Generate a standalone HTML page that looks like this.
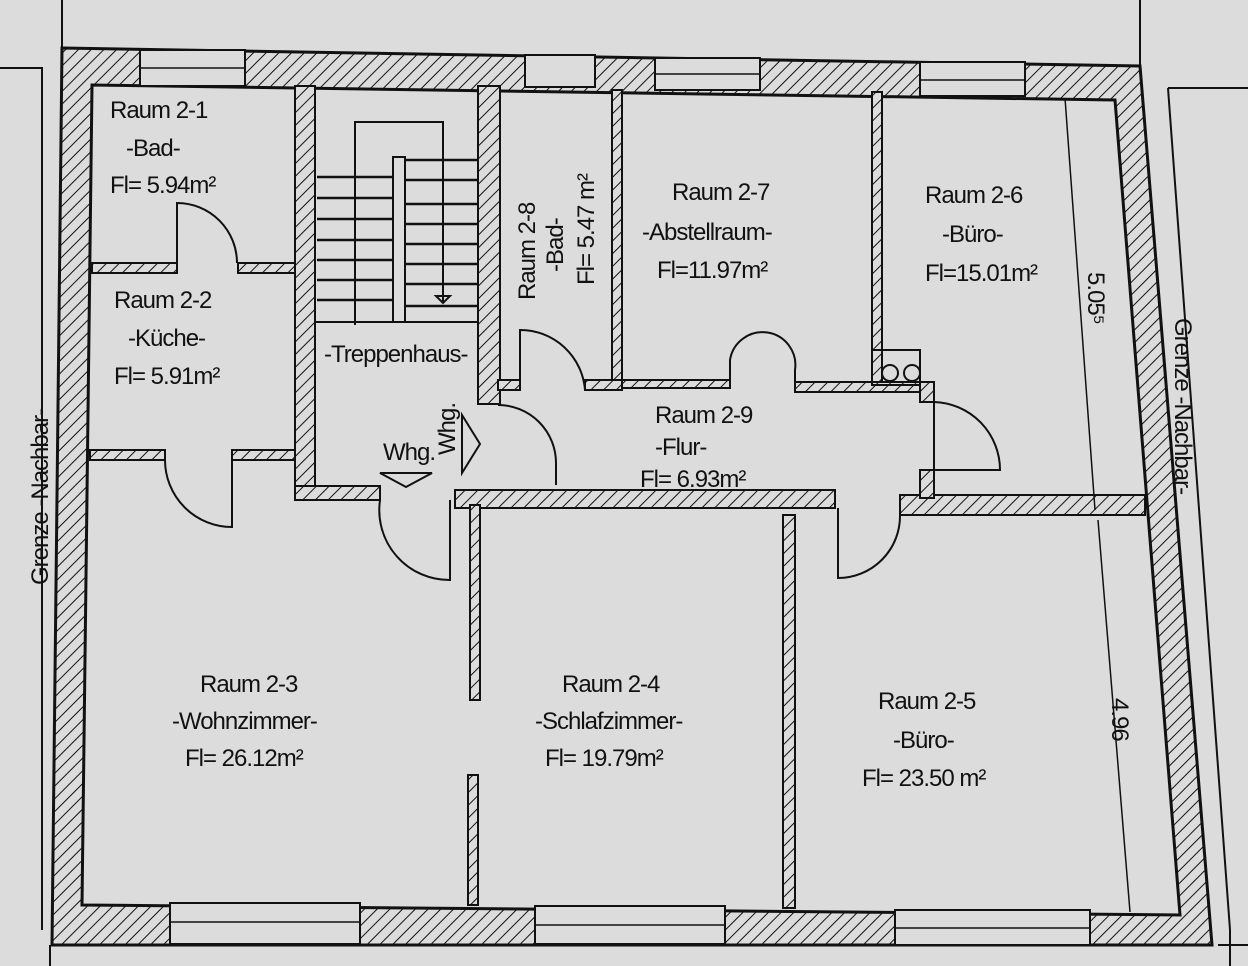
<!DOCTYPE html>
<html><head><meta charset="utf-8"><style>
html,body{margin:0;padding:0;background:#dcdcdc}
svg{display:block}
text{font-family:"Liberation Sans Narrow","Liberation Sans",sans-serif;fill:#111;font-size:24px;letter-spacing:-1px}
</style></head><body>
<svg width="1248" height="966" viewBox="0 0 1248 966" xmlns="http://www.w3.org/2000/svg">
<defs>
<pattern id="h" width="9" height="9" patternUnits="userSpaceOnUse" patternTransform="rotate(45)">
<rect width="9" height="9" fill="#dcdcdc"/><line x1="0" y1="0" x2="0" y2="9" stroke="#111" stroke-width="2"/>
</pattern>
</defs>
<rect width="1248" height="966" fill="#dcdcdc"/>
<g stroke="#111" stroke-width="2" fill="none">
<path d="M0 68 H42 V930"/><path d="M1168 88 H1248"/><path d="M1168 88 L1230 930"/>
<line x1="62" y1="0" x2="62" y2="48"/><line x1="1140" y1="0" x2="1140" y2="65"/>
<line x1="50" y1="945" x2="50" y2="966"/><line x1="1218" y1="945" x2="1248" y2="945"/>
<line x1="1230" y1="930" x2="1230" y2="966"/>
</g>
<path d="M62 48 L1140 66 L1212 945 L52 945 Z M92 85 L82 905 L1180 915 L1115 100 Z" fill="url(#h)" fill-rule="evenodd" stroke="#111" stroke-width="3"/>
<g fill="#dcdcdc" stroke="#111" stroke-width="2">
<rect x="140" y="50" width="105" height="36"/><rect x="525" y="55" width="70" height="32"/>
<rect x="655" y="58" width="105" height="32"/><rect x="920" y="62" width="105" height="34"/>
<rect x="170" y="903" width="190" height="41"/><rect x="535" y="906" width="190" height="38"/><rect x="895" y="910" width="195" height="35"/>
</g>
<g stroke="#111" stroke-width="1.5">
<line x1="140" y1="68" x2="245" y2="68"/><line x1="655" y1="74" x2="760" y2="74"/><line x1="920" y1="80" x2="1025" y2="80"/>
<line x1="170" y1="922" x2="360" y2="922"/><line x1="535" y1="925" x2="725" y2="925"/><line x1="895" y1="928" x2="1090" y2="928"/>
</g>
<g fill="url(#h)" stroke="#111" stroke-width="2">
<rect x="295" y="86" width="20" height="414"/>
<rect x="478" y="86" width="22" height="318"/>
<rect x="92" y="263" width="85" height="10"/><rect x="238" y="263" width="57" height="10"/>
<rect x="90" y="450" width="75" height="10"/><rect x="232" y="450" width="63" height="10"/>
<rect x="295" y="486" width="85" height="14"/>
<rect x="455" y="490" width="380" height="18"/>
<rect x="900" y="495" width="245" height="20"/>
<rect x="612" y="90" width="10" height="292"/>
<rect x="872" y="92" width="10" height="290"/>
<rect x="498" y="380" width="22" height="10"/><rect x="585" y="380" width="37" height="10"/>
<rect x="622" y="380" width="108" height="8"/><rect x="795" y="382" width="125" height="10"/>
<rect x="920" y="382" width="14" height="20"/><rect x="920" y="470" width="14" height="28"/>
<rect x="470" y="505" width="10" height="195"/><rect x="468" y="775" width="10" height="130"/>
<rect x="783" y="515" width="12" height="393"/>
</g>
<g stroke="#111" stroke-width="2" fill="none">
<path d="M177 263 V203 A60 60 0 0 1 237 263"/>
<path d="M165 460 A67 67 0 0 0 232 527 V460"/>
<path d="M520 390 V330 A65 65 0 0 1 585 390"/>
<path d="M730 385 V360 A32 32 0 0 1 795 370 V385"/>
<path d="M934 402 V470"/><path d="M934 402 A68 68 0 0 1 1000 470 H934"/>
<path d="M498 405 A58 58 0 0 1 556 463 V485"/>
<path d="M380 500 A70 70 0 0 0 450 580 V500"/>
<path d="M838 508 V578 A62 62 0 0 0 900 515"/>
<circle cx="890" cy="373" r="8"/><circle cx="912" cy="373" r="8"/>
<rect x="872" y="350" width="48" height="35"/>
</g>
<g stroke="#111" stroke-width="2" fill="none">
<path d="M355 325 V122 H443 V302"/>
<rect x="393" y="157" width="12" height="165"/>
<g stroke-width="2.5">
<line x1="405" y1="160" x2="478" y2="160"/>
<line x1="317" y1="177" x2="393" y2="177"/><line x1="405" y1="180" x2="478" y2="180"/>
<line x1="317" y1="198" x2="393" y2="198"/><line x1="405" y1="204" x2="478" y2="204"/>
<line x1="317" y1="219" x2="393" y2="219"/><line x1="405" y1="224" x2="478" y2="224"/>
<line x1="317" y1="240" x2="393" y2="240"/><line x1="405" y1="244" x2="478" y2="244"/>
<line x1="317" y1="260" x2="393" y2="260"/><line x1="405" y1="264" x2="478" y2="264"/>
<line x1="317" y1="280" x2="393" y2="280"/><line x1="405" y1="284" x2="478" y2="284"/>
<line x1="317" y1="300" x2="393" y2="300"/><line x1="405" y1="306" x2="478" y2="306"/>
</g>
<line x1="315" y1="322" x2="478" y2="322"/>
<path d="M436 296 L450 296 L443 303 Z"/>
<path d="M380 473 H432 L406 487 Z"/><path d="M462 415 V473 L480 444 Z"/>
<line x1="1065" y1="98" x2="1095" y2="510" stroke-width="1.5"/>
<line x1="1098" y1="520" x2="1130" y2="912" stroke-width="1.5"/>
</g>
<text x="110" y="118">Raum 2-1</text><text x="126" y="156">-Bad-</text><text x="110" y="193">Fl= 5.94m²</text>
<text x="114" y="308">Raum 2-2</text><text x="128" y="346">-Küche-</text><text x="114" y="384">Fl= 5.91m²</text>
<text x="324" y="362">-Treppenhaus-</text>
<text x="383" y="460" font-size="21">Whg.</text>
<text x="455" y="455" font-size="21" transform="rotate(-90 455 455)">Whg.</text>
<text transform="translate(535 300) rotate(-90)">Raum 2-8</text>
<text transform="translate(563 272) rotate(-90)">-Bad-</text>
<text transform="translate(594 285) rotate(-90)">Fl= 5.47 m²</text>
<text x="672" y="200">Raum 2-7</text><text x="642" y="240">-Abstellraum-</text><text x="657" y="278">Fl=11.97m²</text>
<text x="925" y="203">Raum 2-6</text><text x="942" y="242">-Büro-</text><text x="925" y="281">Fl=15.01m²</text>
<text x="655" y="423">Raum 2-9</text><text x="655" y="455">-Flur-</text><text x="640" y="487">Fl= 6.93m²</text>
<text x="200" y="692">Raum 2-3</text><text x="172" y="729">-Wohnzimmer-</text><text x="185" y="766">Fl= 26.12m²</text>
<text x="562" y="692">Raum 2-4</text><text x="535" y="729">-Schlafzimmer-</text><text x="545" y="766">Fl= 19.79m²</text>
<text x="878" y="709">Raum 2-5</text><text x="893" y="748">-Büro-</text><text x="862" y="786">Fl= 23.50 m²</text>
<text transform="translate(1088 272) rotate(90)">5.05⁵</text>
<text transform="translate(1112 698) rotate(90)">4.96</text>
<text font-size="14" transform="translate(1175 318) rotate(90)">Grenze -Nachbar-</text>
<text font-size="14" transform="translate(48 585) rotate(-90)">Grenze -Nachbar-</text>
</svg>
</body></html>
